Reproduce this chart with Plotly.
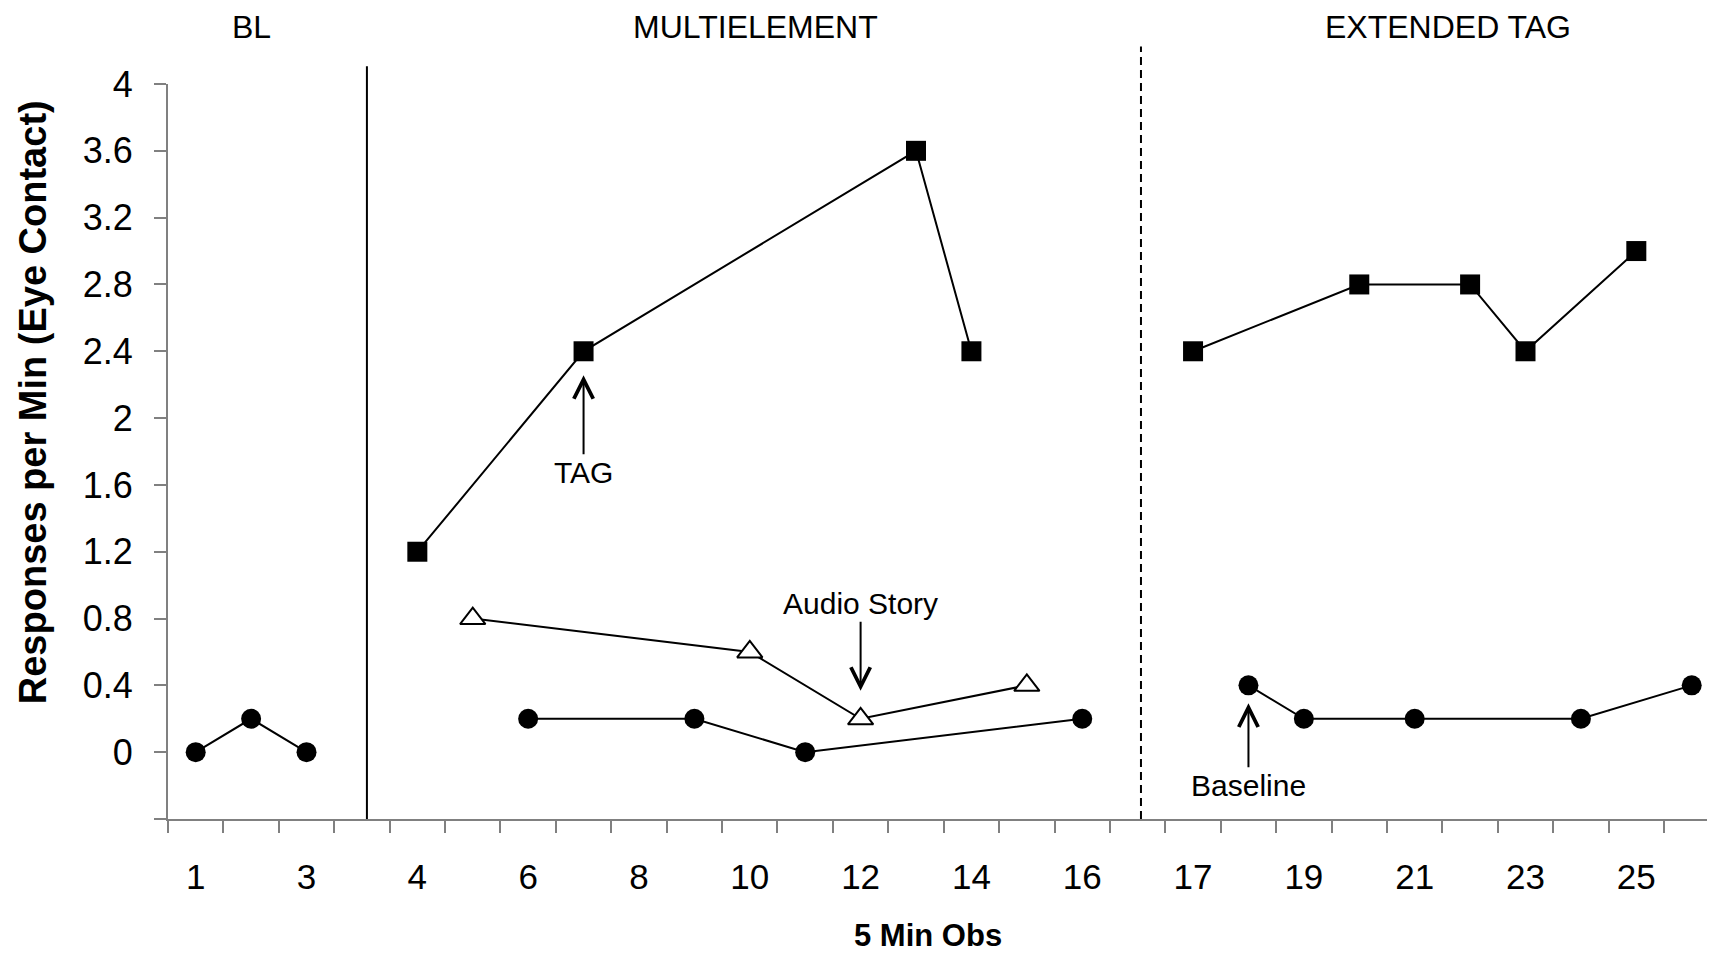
import plotly.graph_objects as go

# ---------------- data ----------------
bl_sessions = [1, 2, 3]
bl_baseline = [0, 0.2, 0]

me_tag_sessions = [4, 7, 13, 14]
me_tag = [1.2, 2.4, 3.6, 2.4]
me_audio_sessions = [5, 10, 12, 15]
me_audio = [0.8, 0.6, 0.2, 0.4]
me_base_sessions = [6, 9, 11, 16]
me_base = [0.2, 0.2, 0, 0.2]

et_tag_sessions = [17, 20, 22, 23, 25]
et_tag = [2.4, 2.8, 2.8, 2.4, 3.0]
et_base_sessions = [18, 19, 21, 24, 26]
et_base = [0.4, 0.2, 0.2, 0.2, 0.4]

x_tick_labels = [1, 3, 4, 6, 8, 10, 12, 14, 16, 17, 19, 21, 23, 25]
y_ticks = [-0.4, 0, 0.4, 0.8, 1.2, 1.6, 2, 2.4, 2.8, 3.2, 3.6, 4]
phase_names = ["BL", "MULTIELEMENT", "EXTENDED TAG"]
x_title = "5 Min Obs"
y_title = "Responses per Min (Eye Contact)"


# one empty slot is left between phases on the category axis
def pos(s):
    if s <= 3:
        return s
    if s <= 16:
        return s + 1
    return s + 2


def P(lst):
    return [pos(s) for s in lst]


FONT = "Liberation Sans, Arial, sans-serif"
GRAY = "#808080"

fig = go.Figure()


def add(sessions, vals, kind):
    if kind == "square":
        marker = dict(symbol="square", size=20, color="black")
    elif kind == "circle":
        marker = dict(symbol="circle", size=20, color="black")
    else:
        marker = dict(symbol="triangle-up", size=22, color="white",
                      line=dict(color="black", width=2))
    fig.add_trace(go.Scatter(x=P(sessions), y=vals, mode="lines+markers",
                             line=dict(color="black", width=2),
                             marker=marker, showlegend=False,
                             cliponaxis=False))


add(bl_sessions, bl_baseline, "circle")
add(me_base_sessions, me_base, "circle")
add(me_audio_sessions, me_audio, "triangle")
add(me_tag_sessions, me_tag, "square")
add(et_base_sessions, et_base, "circle")
add(et_tag_sessions, et_tag, "square")

# phase change lines
fig.add_shape(type="line", xref="x", yref="paper", x0=4.09, x1=4.09,
              y0=0, y1=1.024, line=dict(color="black", width=2))
fig.add_shape(type="line", xref="x", yref="paper", x0=18.06, x1=18.06,
              y0=0, y1=1.051, line=dict(color="black", width=2, dash="8px,5px"))

# phase titles
for name, xc in zip(phase_names, [2.0, 11.1, 23.6]):
    fig.add_annotation(x=xc, y=1.077, xref="x", yref="paper", text=name,
                       showarrow=False, font=dict(family=FONT, size=32, color="black"),
                       yanchor="middle")

# axis titles
fig.add_annotation(x=0.491, y=-0.158, xref="paper", yref="paper",
                   text="<b>%s</b>" % x_title, showarrow=False,
                   xanchor="center", yanchor="middle",
                   font=dict(family=FONT, size=31, color="black"))
fig.add_annotation(x=-0.0873, y=0.567, xref="paper", yref="paper",
                   text="<b>%s</b>" % y_title, showarrow=False, textangle=-90,
                   xanchor="center", yanchor="middle",
                   font=dict(family=FONT, size=38, color="black"))

# arrow annotations
arrow_common = dict(showarrow=True, arrowhead=5, arrowsize=1.9, arrowwidth=2,
                    arrowcolor="black", axref="pixel", ayref="pixel",
                    font=dict(family=FONT, size=30, color="black"))
fig.add_annotation(x=pos(7), y=2.4, text="TAG", ax=0, ay=121, standoff=24,
                   **arrow_common)
fig.add_annotation(x=pos(12), y=0.2, text="Audio Story", ax=0, ay=-115,
                   standoff=28, **arrow_common)
fig.add_annotation(x=pos(18), y=0.4, text="Baseline", ax=0, ay=100,
                   standoff=18, **arrow_common)

xrange = [0.5, 28.42]
half_ticks = [i + 0.5 for i in range(0, 29)]

# the page body has an 8px margin, so the figure is offset by 8px
fig.update_layout(
    width=1707, height=947,
    margin=dict(l=160, r=0, t=76, b=136),
    plot_bgcolor="white", paper_bgcolor="white",
    font=dict(family=FONT, color="black"),
    xaxis=dict(range=xrange, tickmode="array",
               tickvals=P(x_tick_labels), ticktext=[str(v) for v in x_tick_labels],
               ticks="", showline=False, showgrid=False, zeroline=False,
               tickfont=dict(family=FONT, size=35, color="black"),
               ticklabelstandoff=34),
    xaxis2=dict(range=xrange, overlaying="x", anchor="y", side="bottom",
                tickmode="array", tickvals=half_ticks, showticklabels=False,
                ticks="outside", ticklen=12, tickwidth=2, tickcolor=GRAY,
                showline=True, linecolor=GRAY, linewidth=2,
                showgrid=False, zeroline=False),
    yaxis=dict(range=[-0.4, 4], tickmode="array", tickvals=y_ticks,
               ticktext=["" if v < 0 else ("%g" % v) for v in y_ticks],
               ticks="outside", ticklen=12, tickwidth=2, tickcolor=GRAY,
               showline=True, linecolor=GRAY, linewidth=2,
               showgrid=False, zeroline=False,
               tickfont=dict(family=FONT, size=36, color="black"),
               ticklabelstandoff=14),
)

# invisible trace to activate xaxis2
fig.add_trace(go.Scatter(x=[1], y=[None], xaxis="x2", yaxis="y",
                         showlegend=False, hoverinfo="skip"))

fig.write_html("out.html")
